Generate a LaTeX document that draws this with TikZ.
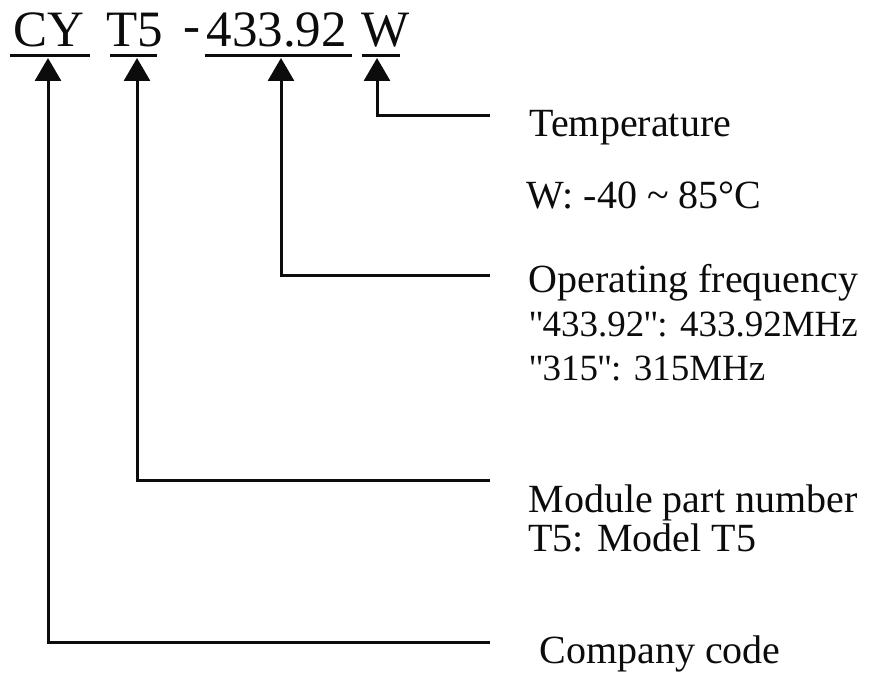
\documentclass[tikz,border=0pt]{standalone}
\usepackage{fontspec}
\setmainfont{Liberation Serif}
\usetikzlibrary{arrows.meta}
\definecolor{ink}{RGB}{12,12,12}
\newcommand{\qt}{\textquotedbl}

\begin{document}
\begin{tikzpicture}[x=1pt, y=-1pt, line width=3pt, draw=ink, text=ink,
  code/.style={anchor=base west, inner sep=0pt, font=\fontsize{51}{51}\selectfont},
  desc/.style={anchor=base west, inner sep=0pt, font=\fontsize{40}{44}\selectfont},
  tip/.style={-{Triangle[length=23pt, width=26pt]}}]
  \useasboundingbox (0,0) rectangle (879,682);
  % part number + underlines
  \node[code] (cy) at (12,47) {CY};
  \node[code] (t5) at (105,47) {T5};
  \node[code] (dash) at (182,43) {-};
  \node[code] (freq) at (205,47) {433.92};
  \node[code] (w) at (360,47) {W};
  \foreach \a/\b in {10/90, 110/157, 205/352, 362/400} \draw (\a,56) -- (\b,56);
  \coordinate (cytip) at (48,58);
  \coordinate (t5tip) at (137,58);
  \coordinate (freqtip) at (281,58);
  \coordinate (wtip) at (377,58);
  % descriptions
  \node[desc] (ltemp) at (528,137) {Temperature};
  \node[desc] (ltemp2) at (525,208) {W: -40 \textasciitilde{} 85°C};
  \node[desc] (lfreq) at (527,292) {Operating frequency};
  \node[desc, font=\fontsize{37}{44}\selectfont] (lfreq2) at (527,336)
    {\qt\kern-1pt 433.92\kern-1pt\qt\kern-1pt: 433.92MHz};
  \node[desc, font=\fontsize{37}{44}\selectfont] (lfreq3) at (527,380)
    {\qt\kern-1pt 315\kern-1pt\qt\kern-1pt: 315MHz};
  \node[desc] (lmod) at (527,512) {Module part number};
  \node[desc] (lmod2) at (527,551) {T5: Model T5};
  \node[desc] (lcomp) at (538,663) {Company code};
  % leader lines
  \draw[tip] ([xshift=-38pt, yshift=21pt]ltemp.base west) -| (wtip);
  \draw[tip] ([xshift=-37pt, yshift=17pt]lfreq.base west) -| (freqtip);
  \draw[tip] ([xshift=-37pt, yshift=32pt]lmod.base west) -| (t5tip);
  \draw[tip] ([xshift=-48pt, yshift=21pt]lcomp.base west) -| (cytip);
\end{tikzpicture}
\end{document}
